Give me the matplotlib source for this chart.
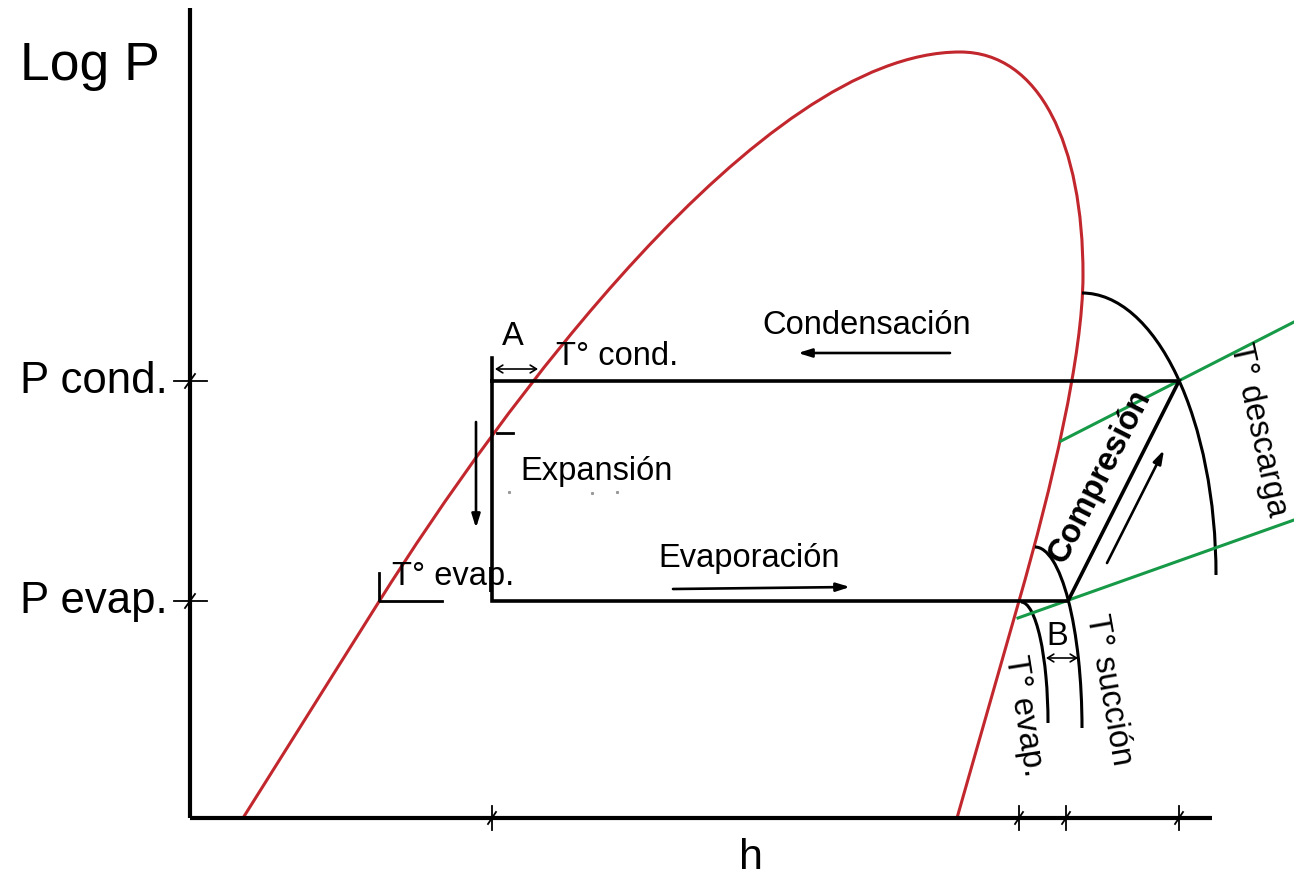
"""
Diagrama P-h (Log P vs h) esquemático del ciclo de refrigeración.
Domo de saturación, ciclo, isotermas y rótulos.
"""
import matplotlib
matplotlib.use("Agg")
import matplotlib.pyplot as plt
from matplotlib.path import Path
from matplotlib.patches import PathPatch, Arc

plt.rcParams["font.family"] = ["Liberation Sans", "DejaVu Sans"]

# ── datos (unidades del esquema: h hacia la derecha, P hacia arriba) ──
# domo: tramo recto, líquido saturado hasta el punto crítico, vapor saturado
# (nodos y puntos de control Bezier)
DOME_H = [243, 380, 497, 760, 960, 1040, 1083, 1083, 1083, 1052, 1019, 957]
DOME_P = [818, 600, 414, 52, 52, 52, 145, 275, 355, 486, 601, 818]
DOME_CODES = [Path.MOVETO, Path.LINETO] + [Path.CURVE4] * 9 + [Path.LINETO]

P_TICKS = [381, 601]
P_LABELS = ["P cond.", "P evap."]
H_TICKS = [492, 1019, 1066, 1179]

# ciclo: expansión, evaporación, compresión, condensación
CYCLE_H = [492, 492, 1068, 1179, 492]
CYCLE_P = [358, 601, 601, 381, 381]

# isotermas (verde)
ISO_UP_H = [1061, 1294]
ISO_UP_P = [441, 322]
ISO_LO_H = [1018, 1294]
ISO_LO_P = [618, 520]

# arcos (centro h, centro P, semieje h, semieje P)
ARC_DESCARGA = (1082, 575, 134, 282)
ARC_SUCCION = (1035, 728, 47, 181)
ARC_EVAP = (1021, 723, 27, 121)

RED = "#c1272d"
GREEN = "#179a47"

fig = plt.figure(figsize=(12.94, 8.77), dpi=100)
ax = fig.add_axes([0, 0, 1, 1])
ax.set_xlim(0, 1294)
ax.set_ylim(877, 0)
ax.axis("off")

# ── ejes ──
ax.plot([190, 190], [8, 818], color="black", lw=3, solid_capstyle="butt")
ax.plot([190, 1212], [818, 818], color="black", lw=3, solid_capstyle="butt")
for p in P_TICKS:
    ax.plot([174, 207], [p, p], color="black", lw=1.3)
    ax.plot([185, 195], [p + 7, p - 7], color="black", lw=1.3)
for h in H_TICKS:
    ax.plot([h, h], [806, 830], color="black", lw=1.3)
    ax.plot([h - 4, h + 4], [824, 812], color="black", lw=1.3)

# ── domo de saturación ──
dome = Path(list(zip(DOME_H, DOME_P)), DOME_CODES)
ax.add_patch(PathPatch(dome, fill=False, edgecolor=RED, lw=2.2))

# ── isotermas ──
ax.plot(ISO_UP_H, ISO_UP_P, color=GREEN, lw=2.2)
ax.plot(ISO_LO_H, ISO_LO_P, color=GREEN, lw=2.2)
for cx, cy, a, b in (ARC_DESCARGA, ARC_SUCCION, ARC_EVAP):
    ax.add_patch(Arc((cx, cy), 2 * a, 2 * b, theta1=270, theta2=360,
                     color="black", lw=2.2))

# ── ciclo ──
ax.plot(CYCLE_H, CYCLE_P, color="black", lw=2.6, solid_joinstyle="miter")

# pequeños detalles
ax.plot([497, 513], [433, 433], color="black", lw=2)
ax.plot([379, 379], [573, 600], color="black", lw=2)
ax.plot([380, 442], [601, 601], color="black", lw=2)
ax.plot([509, 592, 617], [492, 493, 492], ls="none", marker="s",
        ms=1.2, color="#999999")

# flechas
arr = dict(arrowstyle="-|>,head_length=0.8,head_width=0.25",
           color="black", lw=1.9, shrinkA=0, shrinkB=0)
ax.annotate("", xy=(798, 353), xytext=(950, 353), arrowprops=arr)
ax.annotate("", xy=(850, 587), xytext=(673, 589), arrowprops=arr)
ax.annotate("", xy=(476, 528), xytext=(476, 422), arrowprops=arr)
ax.annotate("", xy=(1164, 450), xytext=(1107, 563), arrowprops=arr)
dbl = dict(arrowstyle="<->,head_length=0.45,head_width=0.28",
           color="black", lw=1.2, shrinkA=0, shrinkB=0)
ax.annotate("", xy=(538, 369), xytext=(495, 369), arrowprops=dbl)
ax.annotate("", xy=(1078, 658), xytext=(1046, 658), arrowprops=dbl)

# ── textos ──
ax.text(20, 80, "Log P", fontsize=38.5, va="baseline")
for p, lab in zip(P_TICKS, P_LABELS):
    ax.text(20, p + 12, lab, fontsize=31.5, va="baseline")
ax.text(751, 858, "h", fontsize=31, ha="center", va="center")

fs = 23.5
ax.text(513, 345, "A", fontsize=fs, ha="center", va="baseline")
ax.text(556, 365, "T° cond.", fontsize=fs, va="baseline")
ax.text(762, 334, "Condensación", fontsize=fs, va="baseline")
ax.text(520, 480, "Expansión", fontsize=fs, va="baseline")
ax.text(658, 567, "Evaporación", fontsize=fs, va="baseline")
ax.text(392, 585, "T° evap.", fontsize=fs, va="baseline")
ax.text(1057, 645, "B", fontsize=fs, ha="center", va="baseline")

ax.text(1100, 476, "Compresión", fontsize=23.5, fontweight="bold",
        rotation=63, ha="center", va="center", rotation_mode="anchor")
ax.text(1258, 430, "T° descarga", fontsize=fs, rotation=-77.5,
        ha="center", va="center", rotation_mode="anchor")
ax.text(1109, 690, "T° succión", fontsize=fs, rotation=-80,
        ha="center", va="center", rotation_mode="anchor")
ax.text(1024, 716, "T° evap.", fontsize=fs, rotation=-81,
        ha="center", va="center", rotation_mode="anchor")

fig.savefig("out.png", dpi=100)
